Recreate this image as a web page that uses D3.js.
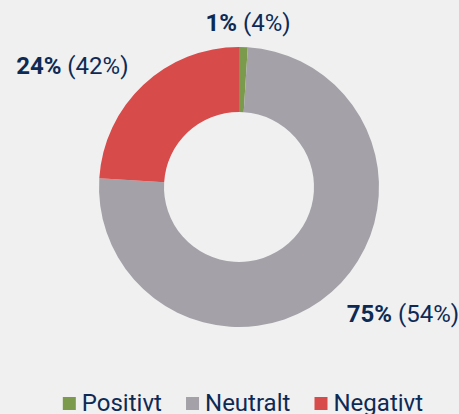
<!DOCTYPE html>
<html>
<head>
<meta charset="utf-8">
<script src="https://cdn.jsdelivr.net/npm/d3@7"></script>
<style>
  html, body { margin: 0; padding: 0; background: #f0f0f0; }
  svg { display: block; font-family: Roboto, "Noto Sans", sans-serif; }
</style>
</head>
<body>
<div id="chart"></div>
<script>
// Chart data
const categories = ["Positivt", "Neutralt", "Negativt"];
const shares = [1, 75, 24];           // share in percent
const compare = [4, 54, 42];          // value in brackets
const colors = ["#7b9a4b", "#a4a2a8", "#d84b4b"];

const width = 459, height = 414;
const cx = 239, cy = 187;
const outerR = 140, innerR = 75;
const textColor = "#0d2a55";

const svg = d3.select("#chart")
    .append("svg")
    .attr("width", width)
    .attr("height", height);

const g = svg.append("g")
    .attr("transform", "translate(" + cx + "," + cy + ")");

const pie = d3.pie().sort(null).value(d => d);
const arcs = pie(shares);

const arc = d3.arc().innerRadius(innerR).outerRadius(outerR);
const labelArc = d3.arc().innerRadius(160).outerRadius(160);

g.selectAll("path")
    .data(arcs)
    .enter()
    .append("path")
    .attr("d", arc)
    .attr("fill", (d, i) => colors[i]);

// Percent labels outside the ring
arcs.forEach((d, i) => {
    const mid = (d.startAngle + d.endAngle) / 2;
    const pos = labelArc.centroid(d);
    let anchor = "middle";
    if (Math.abs(Math.sin(mid)) > 0.3) anchor = Math.sin(mid) > 0 ? "start" : "end";
    const dy = Math.cos(mid) < 0 ? 15 : 4;
    const t = g.append("text")
        .attr("x", pos[0] + (anchor == "start" ? 2 : anchor == "end" ? -1 : 4))
        .attr("y", pos[1] + dy)
        .attr("text-anchor", anchor)
        .attr("fill", textColor)
        .style("font-size", "24px");
    t.append("tspan").attr("font-weight", "bold").text(shares[i] + "%");
    t.append("tspan").text(" (" + compare[i] + "%)");
});

// Legend
const legend = svg.append("g");
const items = legend.selectAll("g")
    .data(categories)
    .enter()
    .append("g");

items.append("rect")
    .attr("width", 13)
    .attr("height", 13)
    .attr("y", -14)
    .attr("fill", (d, i) => colors[i]);

items.append("text")
    .attr("x", 19)
    .attr("y", 0)
    .attr("fill", textColor)
    .style("font-size", "24px")
    .text(d => d);

let xoff = 0;
items.each(function () {
    const w = this.getBBox().width;
    d3.select(this).attr("transform", "translate(" + xoff + ",0)");
    xoff += w + 24;
});
const total = xoff - 24;
legend.attr("transform", "translate(" + (243 - total / 2) + ",411)");
</script>
</body>
</html>
